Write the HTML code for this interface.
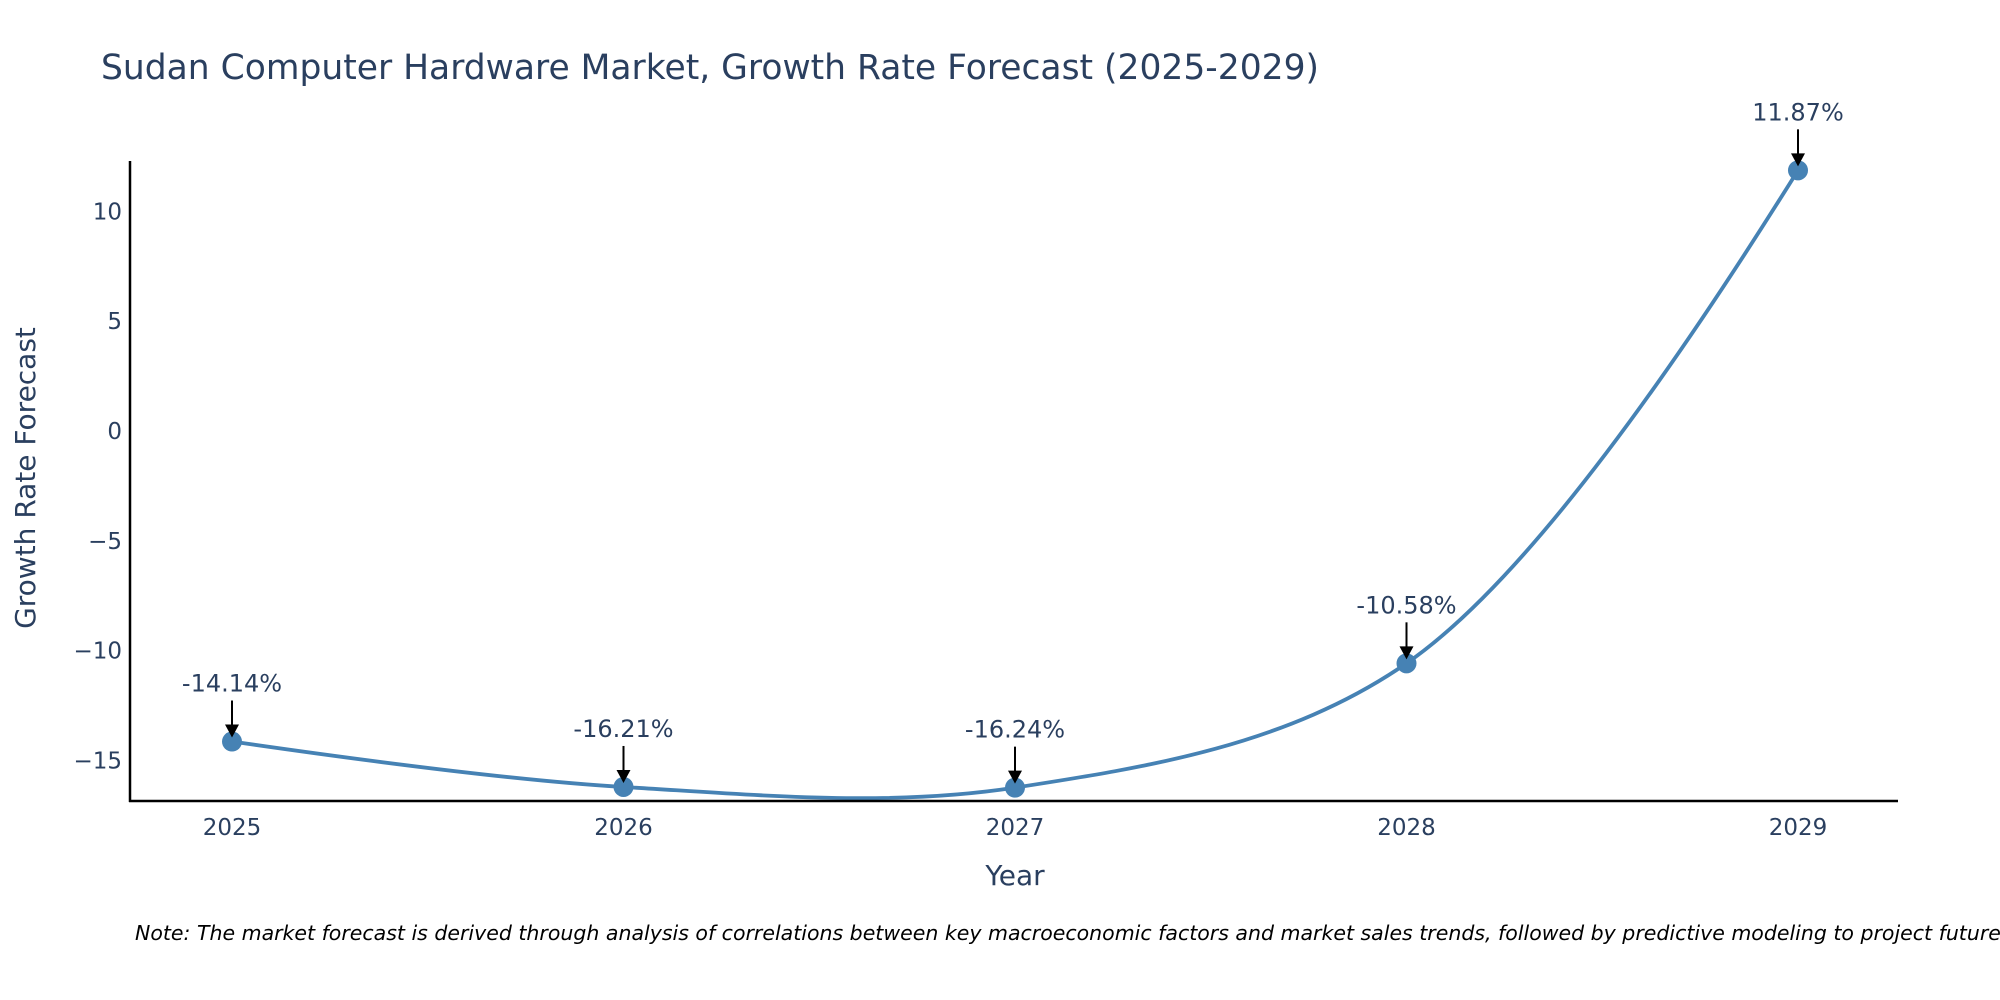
<!DOCTYPE html>
<html><head><meta charset="utf-8"><style>
body{margin:0;background:#fff}
svg{display:block;font-family:"DejaVu Sans","Liberation Sans",sans-serif}
</style></head><body>
<svg id="chart" width="2000" height="1000" viewBox="0 0 2000 1000">
<text x="101" y="79" font-size="34.5" fill="#2a3f5f">Sudan Computer Hardware Market, Growth Rate Forecast (2025-2029)</text>
<g id="yticks"></g><g id="xticks"></g>
<path id="line" fill="none" stroke="#4682b4" stroke-width="3.8"/>
<g id="pts"></g><g id="ann"></g>
<line x1="130" y1="161" x2="130" y2="802" stroke="#000" stroke-width="2.5"/>
<line x1="129" y1="801" x2="1898" y2="801" stroke="#000" stroke-width="2.5"/>
<text transform="translate(35,478) rotate(-90)" text-anchor="middle" font-size="28" fill="#2a3f5f">Growth Rate Forecast</text>
<text x="1015" y="885" text-anchor="middle" font-size="28" fill="#2a3f5f">Year</text>
<text x="135" y="940" font-size="20.5" font-style="italic" fill="#000">Note: The market forecast is derived through analysis of correlations between key macroeconomic factors and market sales trends, followed by predictive modeling to project future sales.</text>
</svg>
<script>
const years = [2025, 2026, 2027, 2028, 2029];
const values = [-14.14, -16.21, -16.24, -10.58, 11.87];
const labels = ["-14.14%", "-16.21%", "-16.24%", "-10.58%", "11.87%"];
const yTicks = [10, 5, 0, -5, -10, -15];
const yTickLabels = ["10", "5", "0", "\u22125", "\u221210", "\u221215"];
const NS = "http://www.w3.org/2000/svg";
const xS = v => 232 + (v - 2025) * 391.5;
const yS = v => 431 - v * 21.96;
function mk(tag, attrs, parent, txt){const e=document.createElementNS(NS,tag);for(const k in attrs)e.setAttribute(k,attrs[k]);if(txt!==undefined)e.textContent=txt;parent.appendChild(e);return e;}
const yt=document.getElementById('yticks');
yTicks.forEach((t,i)=>{const e=mk('text',{x:122,y:yS(t)+8,'text-anchor':'end','font-size':23,fill:'#2a3f5f'},yt,yTickLabels[i]);

});
const xt=document.getElementById('xticks');
years.forEach(y=>{const e=mk('text',{x:xS(y),y:835,'text-anchor':'middle','font-size':23,fill:'#2a3f5f'},xt,String(y));

});
const P=years.map((y,i)=>[xS(y),yS(values[i])]);
function tangent(a,b,c,sm){
 const d1x=a[0]-b[0],d1y=a[1]-b[1],d2x=c[0]-b[0],d2y=c[1]-b[1];
 const d1a=Math.pow(d1x*d1x+d1y*d1y,0.25),d2a=Math.pow(d2x*d2x+d2y*d2y,0.25);
 const nx=(d2a*d2a*d1x-d1a*d1a*d2x)*sm,ny=(d2a*d2a*d1y-d1a*d1a*d2y)*sm;
 const den1=3*d2a*(d1a+d2a),den2=3*d1a*(d1a+d2a);
 return [[b[0]+nx/den1,b[1]+ny/den1],[b[0]-nx/den2,b[1]-ny/den2]];
}
const T=[];
for(let i=1;i<P.length-1;i++)T.push(tangent(P[i-1],P[i],P[i+1],1));
let d='M'+P[0]+'Q'+T[0][0]+' '+P[1];
for(let i=2;i<P.length-1;i++)d+='C'+T[i-2][1]+' '+T[i-1][0]+' '+P[i];
d+='Q'+T[P.length-3][1]+' '+P[P.length-1];
document.getElementById('line').setAttribute('d',d);
const pg=document.getElementById('pts'),ag=document.getElementById('ann');
P.forEach((p,i)=>{
 const c=mk('circle',{cx:p[0],cy:p[1],r:10,fill:'#4682b4'},pg);
 
 
 const l=mk('line',{x1:p[0],y1:p[1]-41,x2:p[0],y2:p[1]-14,stroke:'#000','stroke-width':2},ag);
 
 
 const h=mk('polygon',{points:`${p[0]-7},${p[1]-17} ${p[0]+7},${p[1]-17} ${p[0]},${p[1]-4}`,fill:'#000'},ag);
 
 
 const t=mk('text',{x:p[0],y:p[1]-50,'text-anchor':'middle','font-size':24,fill:'#2a3f5f'},ag,labels[i]);
 
 
});
</script>
</body></html>
